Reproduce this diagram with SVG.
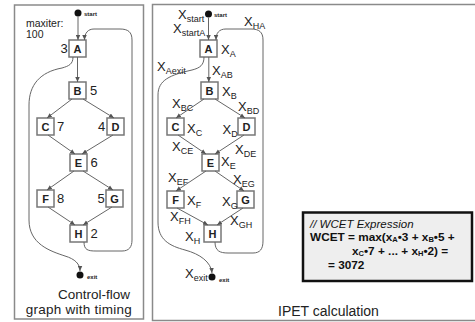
<svg xmlns="http://www.w3.org/2000/svg" width="475" height="322" viewBox="0 0 475 322">
<style>
.panel{fill:none;stroke:#8a8a8a;stroke-width:1.5}
.box{fill:#fff;stroke:#777;stroke-width:1.5}
.lt{font-family:"Liberation Sans",Arial,sans-serif;font-weight:bold;font-size:11px;fill:#222;text-anchor:middle}
.num{font-family:"Liberation Sans",Arial,sans-serif;font-size:13px;fill:#222}
.edge{fill:none;stroke:#666;stroke-width:1}
.x{font-family:"Liberation Sans",Arial,sans-serif;font-size:13px;fill:#222}
.sub{font-size:9px}
.tiny{font-family:"Liberation Sans",Arial,sans-serif;font-weight:bold;font-size:6px;fill:#222}
.cap{font-family:"Liberation Sans",Arial,sans-serif;font-size:14px;fill:#222}
.eq{font-family:"Liberation Sans",Arial,sans-serif;font-size:11.8px;font-weight:bold;fill:#111}
.eqs{font-size:7.5px}
</style>
<defs>
<marker id="ah" viewBox="0 0 6 6" refX="6" refY="3" markerWidth="5" markerHeight="5" orient="auto" markerUnits="userSpaceOnUse"><path d="M0,0.3 L6,3 L0,5.7 z" fill="#555"/></marker>
</defs>

<g id="panels">
<rect class="panel" x="14.5" y="5" width="129" height="314"/>
<path class="panel" d="M476,4.5 H152.5 V320.5 H476"/>
</g>

<!-- LEFT PANEL -->
<g id="left-texts">
<text class="num" x="26" y="27" style="font-size:10.5px">maxiter:</text>
<text class="num" x="26" y="37.5" style="font-size:10.5px">100</text>
<text class="cap" x="130" y="298.5" text-anchor="end" style="font-size:13.5px">Control-flow</text>
<text class="cap" x="132" y="314" text-anchor="end" style="font-size:13.5px;letter-spacing:0.25px">graph with timing</text>
</g>
<g id="L-start"><circle cx="78" cy="13" r="3.5" fill="#111"/><text class="tiny" x="84" y="16">start</text></g>
<g id="L-exit"><circle cx="80" cy="275" r="3.5" fill="#111"/><text class="tiny" x="87" y="279">exit</text></g>
<g id="L-A"><rect class="box" x="69" y="40" width="17" height="17"/><text class="lt" x="77.5" y="52.5">A</text><text class="num" x="60.5" y="53">3</text></g>
<g id="L-B"><rect class="box" x="69" y="82" width="17" height="17"/><text class="lt" x="77.5" y="94.5">B</text><text class="num" x="90" y="95">5</text></g>
<g id="L-C"><rect class="box" x="37" y="118" width="17" height="17"/><text class="lt" x="45.5" y="130.5">C</text><text class="num" x="57" y="131">7</text></g>
<g id="L-D"><rect class="box" x="107" y="118" width="17" height="17"/><text class="lt" x="115.5" y="130.5">D</text><text class="num" x="98" y="131">4</text></g>
<g id="L-E"><rect class="box" x="70" y="154" width="17" height="17"/><text class="lt" x="78.5" y="166.5">E</text><text class="num" x="90.5" y="167">6</text></g>
<g id="L-F"><rect class="box" x="37" y="190" width="17" height="17"/><text class="lt" x="45.5" y="202.5">F</text><text class="num" x="57" y="203">8</text></g>
<g id="L-G"><rect class="box" x="106" y="190" width="17" height="17"/><text class="lt" x="114.5" y="202.5">G</text><text class="num" x="97.5" y="203">5</text></g>
<g id="L-H"><rect class="box" x="70" y="225" width="17" height="17"/><text class="lt" x="78.5" y="237.5">H</text><text class="num" x="90.5" y="238">2</text></g>

<g id="L-connectors">
<path class="edge" marker-end="url(#ah)" d="M78,16.5 V40"/>
<path class="edge" marker-end="url(#ah)" d="M77.5,57 V82"/>
<path class="edge" marker-end="url(#ah)" d="M72,99 L47,118"/>
<path class="edge" marker-end="url(#ah)" d="M83,99 L114,118"/>
<path class="edge" marker-end="url(#ah)" d="M48,135 L75,154"/>
<path class="edge" marker-end="url(#ah)" d="M113,135 L82,154"/>
<path class="edge" marker-end="url(#ah)" d="M74,171 L47,190"/>
<path class="edge" marker-end="url(#ah)" d="M83,171 L113,190"/>
<path class="edge" marker-end="url(#ah)" d="M48,207 L75,225"/>
<path class="edge" marker-end="url(#ah)" d="M112,207 L83,225"/>
<path class="edge" marker-end="url(#ah)" d="M84,242 C84,250 88,251 96,251 L122,251 C129,251 132,247 132,240 L132,40 C132,32 128,29 120,29 L94,29 C88,29 84.5,33 84.5,40"/>
<path class="edge" marker-end="url(#ah)" d="M73,57 C73,64 69,66 62,68 C40,72 29,85 29,105 L29,220 C29,244 50,251 65,256 C75,259 80,264 80,271"/>
</g>

<!-- RIGHT PANEL -->
<g id="R-start"><circle cx="208.5" cy="14" r="3.5" fill="#111"/><text class="tiny" x="214" y="17">start</text></g>
<g id="R-exit"><circle cx="212" cy="277" r="3.5" fill="#111"/><text class="tiny" x="219" y="282">exit</text></g>
<g id="R-A"><rect class="box" x="200" y="40" width="17" height="17"/><text class="lt" x="208.5" y="52.5">A</text><text class="x" x="221" y="54">X<tspan class="sub" dy="3">A</tspan></text></g>
<g id="R-B"><rect class="box" x="201" y="82" width="17" height="17"/><text class="lt" x="209.5" y="94.5">B</text><text class="x" x="222" y="96">X<tspan class="sub" dy="3">B</tspan></text></g>
<g id="R-C"><rect class="box" x="167" y="118" width="17" height="17"/><text class="lt" x="175.5" y="130.5">C</text><text class="x" x="187" y="133">X<tspan class="sub" dy="3">C</tspan></text></g>
<g id="R-D"><rect class="box" x="238" y="118" width="17" height="17"/><text class="lt" x="246.5" y="130.5">D</text><text class="x" x="222.5" y="134">X<tspan class="sub" dy="3">D</tspan></text></g>
<g id="R-E"><rect class="box" x="202" y="154" width="17" height="17"/><text class="lt" x="210.5" y="166.5">E</text><text class="x" x="221" y="166">X<tspan class="sub" dy="3">E</tspan></text></g>
<g id="R-F"><rect class="box" x="167" y="191" width="17" height="17"/><text class="lt" x="175.5" y="203.5">F</text><text class="x" x="187" y="205">X<tspan class="sub" dy="3">F</tspan></text></g>
<g id="R-G"><rect class="box" x="237" y="191" width="17" height="17"/><text class="lt" x="245.5" y="203.5">G</text><text class="x" x="222" y="206">X<tspan class="sub" dy="3">G</tspan></text></g>
<g id="R-H"><rect class="box" x="204" y="225" width="17" height="17"/><text class="lt" x="212.5" y="237.5">H</text><text class="x" x="185" y="241">X<tspan class="sub" dy="3">H</tspan></text></g>

<g id="R-connectors">
<path class="edge" marker-end="url(#ah)" d="M208.5,17.5 V40"/>
<path class="edge" marker-end="url(#ah)" d="M208.8,57 V82"/>
<path class="edge" marker-end="url(#ah)" d="M204,99 L176,118"/>
<path class="edge" marker-end="url(#ah)" d="M215,99 L245,118"/>
<path class="edge" marker-end="url(#ah)" d="M178,135 L206,154"/>
<path class="edge" marker-end="url(#ah)" d="M244,135 L215,154"/>
<path class="edge" marker-end="url(#ah)" d="M206,171 L176,191"/>
<path class="edge" marker-end="url(#ah)" d="M215,171 L244,191"/>
<path class="edge" marker-end="url(#ah)" d="M177,208 L208,225"/>
<path class="edge" marker-end="url(#ah)" d="M243,208 L217,225"/>
<path class="edge" marker-end="url(#ah)" d="M215,242 C215,251 220,253 228,253 L253,253 C260,253 263,249 263,241 L263,40 C263,32 259,29 251,29 L226,29 C219,29 216,33 216,40"/>
<path class="edge" marker-end="url(#ah)" d="M204,57 C204,65 200,68 192,70 C170,75 158,80 158,95 L158,222 C158,240 170,246 185,250 C200,254 211,262 212,273"/>
<g id="R-edge-labels">
<text class="x" x="178" y="19">X<tspan class="sub" dy="3">start</tspan></text>
<text class="x" x="173" y="33">X<tspan class="sub" dy="3">startA</tspan></text>
<text class="x" x="244" y="26">X<tspan class="sub" dy="3">HA</tspan></text>
<text class="x" x="157" y="71">X<tspan class="sub" dy="3">Aexit</tspan></text>
<text class="x" x="212" y="75">X<tspan class="sub" dy="3">AB</tspan></text>
<text class="x" x="172" y="108">X<tspan class="sub" dy="3">BC</tspan></text>
<text class="x" x="238" y="111">X<tspan class="sub" dy="3">BD</tspan></text>
<text class="x" x="172" y="151">X<tspan class="sub" dy="3">CE</tspan></text>
<text class="x" x="235" y="154">X<tspan class="sub" dy="3">DE</tspan></text>
<text class="x" x="168" y="182">X<tspan class="sub" dy="3">EF</tspan></text>
<text class="x" x="233" y="184">X<tspan class="sub" dy="3">EG</tspan></text>
<text class="x" x="170" y="221">X<tspan class="sub" dy="3">FH</tspan></text>
<text class="x" x="230" y="225">X<tspan class="sub" dy="3">GH</tspan></text>
<text class="x" x="185" y="278">X<tspan class="sub" dy="3">exit</tspan></text>
</g>
</g>

<g id="wcet">
<rect x="303" y="212.5" width="169" height="68.5" fill="#eeeeee" stroke="#111" stroke-width="2.5"/>
<text class="eq" x="310" y="227.5" style="font-weight:normal;font-style:italic;font-size:11.5px">// WCET Expression</text>
<text class="eq" x="310" y="240.5">WCET = max(x<tspan class="eqs" dy="1.5">A</tspan><tspan dy="-1.5">•3 + x</tspan><tspan class="eqs" dy="1.5">B</tspan><tspan dy="-1.5">•5 +</tspan></text>
<text class="eq" x="352" y="254.5">x<tspan class="eqs" dy="1.5">C</tspan><tspan dy="-1.5">•7 + ... + x</tspan><tspan class="eqs" dy="1.5">H</tspan><tspan dy="-1.5">•2) =</tspan></text>
<text class="eq" x="328" y="268.5">= 3072</text>
</g>
<text class="cap" x="278" y="316">IPET calculation</text>
</svg>
